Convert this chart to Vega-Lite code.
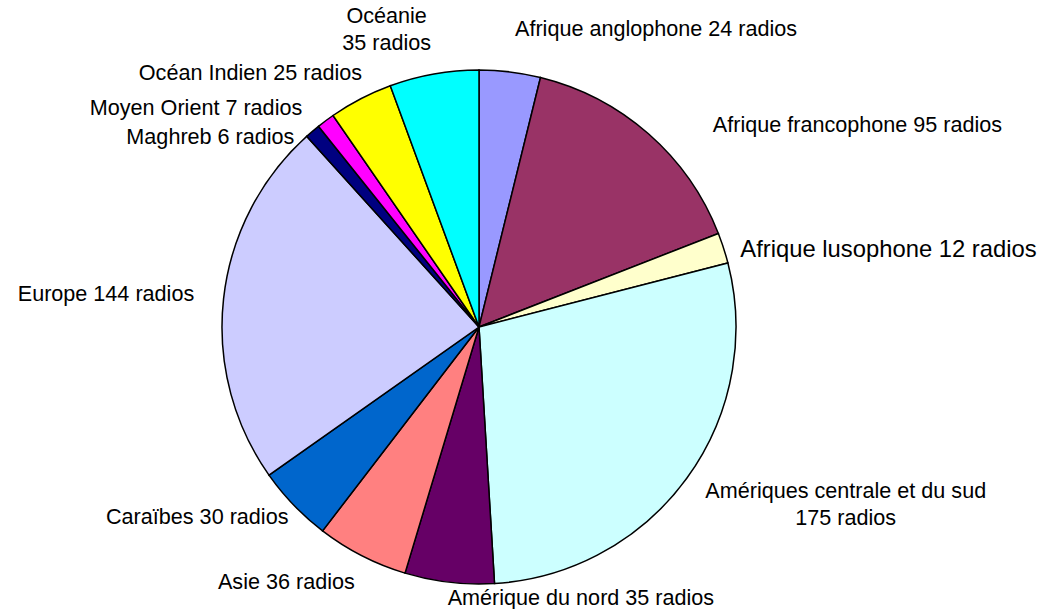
{
  "$schema": "https://vega.github.io/schema/vega-lite/v6.json",
  "width": 958,
  "height": 654,
  "autosize": {"type": "none"},
  "padding": {"left": 0, "top": 0, "right": 87, "bottom": 0},
  "background": "white",
  "config": {"view": {"stroke": null}},
  "data": {
    "values": [
      {"rang": 1, "region": "Afrique anglophone", "radios": 24, "etiquette": "Afrique anglophone 24 radios"},
      {"rang": 2, "region": "Afrique francophone", "radios": 95, "etiquette": "Afrique francophone 95 radios"},
      {"rang": 3, "region": "Afrique lusophone", "radios": 12, "etiquette": "Afrique lusophone 12 radios"},
      {"rang": 4, "region": "Amériques centrale et du sud", "radios": 175, "etiquette": "Amériques centrale et du sud\n175 radios"},
      {"rang": 5, "region": "Amérique du nord", "radios": 35, "etiquette": "Amérique du nord 35 radios"},
      {"rang": 6, "region": "Asie", "radios": 36, "etiquette": "Asie 36 radios"},
      {"rang": 7, "region": "Caraïbes", "radios": 30, "etiquette": "Caraïbes 30 radios"},
      {"rang": 8, "region": "Europe", "radios": 144, "etiquette": "Europe 144 radios"},
      {"rang": 9, "region": "Maghreb", "radios": 6, "etiquette": "Maghreb 6 radios"},
      {"rang": 10, "region": "Moyen Orient", "radios": 7, "etiquette": "Moyen Orient 7 radios"},
      {"rang": 11, "region": "Océan Indien", "radios": 25, "etiquette": "Océan Indien 25 radios"},
      {"rang": 12, "region": "Océanie", "radios": 35, "etiquette": "Océanie\n35 radios"}
    ]
  },
  "encoding": {
    "theta": {"field": "radios", "type": "quantitative", "stack": true},
    "order": {"field": "rang", "type": "quantitative"}
  },
  "layer": [
    {
      "mark": {"type": "arc", "outerRadius": 257, "stroke": "black", "strokeWidth": 1.5},
      "encoding": {
        "color": {
          "field": "region",
          "type": "nominal",
          "legend": null,
          "scale": {
            "domain": ["Afrique anglophone", "Afrique francophone", "Afrique lusophone", "Amériques centrale et du sud", "Amérique du nord", "Asie", "Caraïbes", "Europe", "Maghreb", "Moyen Orient", "Océan Indien", "Océanie"],
            "range": ["#9999FF", "#993366", "#FFFFCC", "#CCFFFF", "#660066", "#FF8080", "#0066CC", "#CCCCFF", "#000080", "#FF00FF", "#FFFF00", "#00FFFF"]
          }
        }
      }
    },
    {
      "transform": [{"joinaggregate": [{"op": "sum", "field": "radios", "as": "total"}]}],
      "mark": {
        "type": "text",
        "radius": {"expr": "285 + 14 * cos(PI * (datum.radios_start + datum.radios_end) / datum.total)"},
        "font": "Liberation Sans",
        "lineBreak": "\n",
        "lineHeight": 27,
        "baseline": "middle",
        "align": {"expr": "(datum.region === 'Océanie' || datum.region === 'Amériques centrale et du sud') ? 'center' : ((datum.radios_start + datum.radios_end) / datum.total < 1.06 ? 'left' : 'right')"},
        "dx": {"expr": "datum.region === 'Afrique francophone' ? 39 : (datum.region === 'Afrique lusophone' ? -14 : (datum.region === 'Océan Indien' ? 20 : (datum.region === 'Maghreb' ? 7 : (datum.region === 'Caraïbes' ? 8 : (datum.region === 'Amériques centrale et du sud' ? 143 : (datum.region === 'Océanie' ? -40 : 0))))))"},
        "dy": {"expr": "datum.region === 'Afrique francophone' ? 21 : (datum.region === 'Afrique lusophone' ? 12 : (datum.region === 'Océan Indien' ? 11 : (datum.region === 'Moyen Orient' ? 20 : (datum.region === 'Maghreb' ? 36 : (datum.region === 'Asie' ? 13 : (datum.region === 'Amériques centrale et du sud' ? 2 : (datum.region === 'Océanie' ? -16 : (datum.region === 'Amérique du nord' ? 3 : 0))))))))"}
      },
      "encoding": {
        "text": {"field": "etiquette", "type": "nominal"},
        "detail": {"field": "region", "type": "nominal"},
        "color": {"value": "black"},
        "size": {"condition": {"test": "datum.region === 'Afrique lusophone'", "value": 23.8}, "value": 21.6}
      }
    }
  ]
}
